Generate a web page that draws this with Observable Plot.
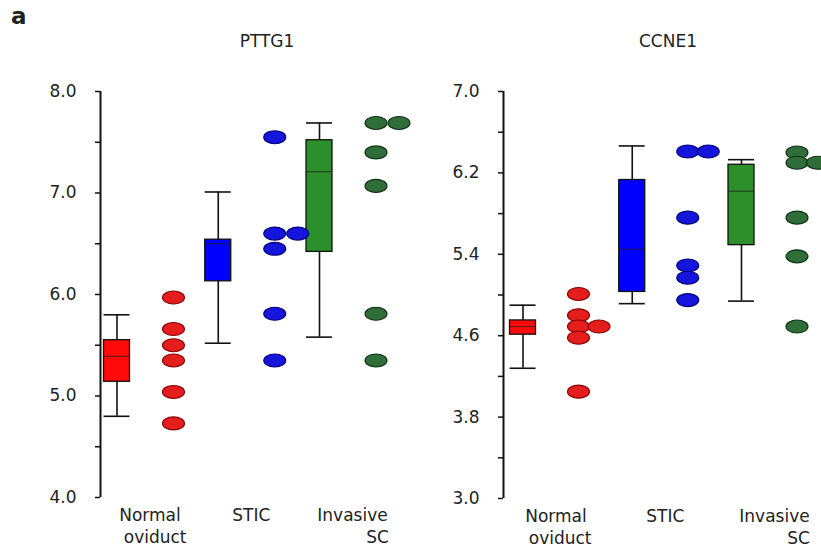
<!DOCTYPE html>
<html>
<head>
<meta charset="utf-8">
<script src="https://cdn.jsdelivr.net/npm/d3@7"></script>
<script src="https://cdn.jsdelivr.net/npm/@observablehq/plot@0.6"></script>
<style>
  html, body { margin: 0; padding: 0; background: #fff; }
  #wrap { position: relative; width: 821px; height: 550px; overflow: hidden; font-family: "DejaVu Sans", sans-serif; color: #222; }
  #wrap svg { position: absolute; top: 0; overflow: visible; background: transparent; }
  .ttl { position: absolute; font-size: 17px; transform: translateX(-50%); white-space: nowrap; }
  .tag { position: absolute; left: 11px; top: 3px; font-size: 23px; font-weight: bold; }
</style>
</head>
<body>
<div id="wrap">
  <div class="tag">a</div>
  <div class="ttl" id="t1" style="left:267px; top:31px;"></div>
  <div class="ttl" id="t2" style="left:668px; top:31px;"></div>
</div>
<script>
// ---------- data ----------
const groupLine1 = ["Normal", "STIC", "Invasive"];
const groupLine2 = ["oviduct", "", "SC"];

// PTTG1 box statistics (per group)
const pttg1Title = "PTTG1";
const pttg1Low    = [4.80, 5.52, 5.58];
const pttg1Q1     = [5.14, 6.13, 6.42];
const pttg1Median = [5.39, 6.50, 7.21];
const pttg1Q3     = [5.55, 6.54, 7.52];
const pttg1High   = [5.80, 7.01, 7.69];
// PTTG1 individual samples
const pttg1Normal   = [5.97, 5.66, 5.50, 5.35, 5.04, 4.73];
const pttg1STIC     = [7.55, 6.60, 6.60, 6.45, 5.81, 5.35];
const pttg1Invasive = [7.69, 7.69, 7.40, 7.07, 5.81, 5.35];
const pttg1Ticks = [4.0, 5.0, 6.0, 7.0, 8.0];

// CCNE1 box statistics (per group)
const ccne1Title = "CCNE1";
const ccne1Low    = [4.28, 4.915, 4.94];
const ccne1Q1     = [4.61, 5.03, 5.49];
const ccne1Median = [4.69, 5.45, 6.02];
const ccne1Q3     = [4.75, 6.13, 6.28];
const ccne1High   = [4.90, 6.465, 6.33];
// CCNE1 individual samples
const ccne1Normal   = [5.01, 4.80, 4.69, 4.69, 4.58, 4.05];
const ccne1STIC     = [6.41, 6.41, 5.76, 5.29, 5.17, 4.95];
const ccne1Invasive = [6.40, 6.30, 6.30, 5.76, 5.38, 4.69];
const ccne1Ticks = [3.0, 3.8, 4.6, 5.4, 6.2, 7.0];

// ---------- styles ----------
const boxFill  = ["#ff0a0a", "#0000ff", "#2b8f2b"];
const dotFill  = ["#e41d1d", "#1515dc", "#2f6e38"];
const dotEdge  = ["#8a0000", "#00007a", "#0f2f12"];
const ink = "#111";

// ellipse symbol (d3-symbol compatible)
const ellipse = {
  draw(ctx) {
    const rx = 11, ry = 6.5, k = 0.5522848, kx = k * rx, ky = k * ry;
    ctx.moveTo(rx, 0);
    ctx.bezierCurveTo(rx, ky, kx, ry, 0, ry);
    ctx.bezierCurveTo(-kx, ry, -rx, ky, -rx, 0);
    ctx.bezierCurveTo(-rx, -ky, -kx, -ry, 0, -ry);
    ctx.bezierCurveTo(kx, -ry, rx, -ky, rx, 0);
    ctx.closePath();
  }
};

function makePanel(cfg) {
  const u = px => px / cfg.spacing;           // px -> x units
  const boxOff = u(cfg.boxStart), half = u(13), dotOff = u(cfg.boxStart + cfg.dotGap), step = u(cfg.dotStep);
  const boxes = groupLine1.map((name, g) => ({
    g, lo: cfg.low[g], q1: cfg.q1[g], med: cfg.med[g], q3: cfg.q3[g], hi: cfg.high[g]
  }));
  const dots = [];
  cfg.samples.forEach((vals, g) => {
    const seen = new Map();
    vals.forEach(v => { const k = seen.get(v) || 0; seen.set(v, k + 1); dots.push({g, v, k}); });
  });
  const labels = groupLine1.map((l1, g) => ({g, l1, l2: groupLine2[g]}));
  const major = cfg.ticks;
  const minor = d3.pairs(major).map(([a, b]) => (a + b) / 2);
  const allTicks = major.concat(minor);
  const yMin = d3.min(major), yMax = d3.max(major);
  const fmt = d3.format(".1f");

  return Plot.plot({
    width: cfg.width, height: 550,
    marginLeft: cfg.marginLeft, marginRight: 0, marginTop: 91, marginBottom: cfg.marginBottom,
    x: {domain: [0, (cfg.width - cfg.marginLeft) / cfg.spacing], axis: null},
    y: {domain: [yMin, yMax], axis: null},
    style: {fontFamily: "DejaVu Sans, sans-serif", fontSize: "17px", color: "#222", background: "transparent", overflow: "visible"},
    marks: [
      Plot.ruleX([0], {y1: yMin, y2: yMax, stroke: ink, strokeWidth: 2}),
      Plot.axisY(allTicks, {
        anchor: "left", tickSize: 5, tickPadding: 19, strokeWidth: 1.5, stroke: ink,
        tickFormat: d => major.includes(d) ? fmt(d) : "", fontSize: 17
      }),
      // whiskers
      Plot.ruleX(boxes, {x: d => d.g + boxOff, y1: "lo", y2: "hi", stroke: ink, strokeWidth: 1.6}),
      Plot.ruleY(boxes, {y: "lo", x1: d => d.g + boxOff - half, x2: d => d.g + boxOff + half, stroke: ink, strokeWidth: 1.6}),
      Plot.ruleY(boxes, {y: "hi", x1: d => d.g + boxOff - half, x2: d => d.g + boxOff + half, stroke: ink, strokeWidth: 1.6}),
      // boxes
      Plot.rect(boxes, {
        x1: d => d.g + boxOff - half, x2: d => d.g + boxOff + half, y1: "q1", y2: "q3",
        fill: d => boxFill[d.g], stroke: ink, strokeWidth: 1.3
      }),
      Plot.ruleY(boxes, {y: "med", x1: d => d.g + boxOff - half, x2: d => d.g + boxOff + half, stroke: "#222", strokeOpacity: 0.7, strokeWidth: 1.2}),
      // samples
      Plot.dot(dots, {
        x: d => d.g + dotOff + d.k * step, y: "v", symbol: ellipse,
        fill: d => dotFill[d.g], stroke: d => dotEdge[d.g], strokeWidth: 1.1
      }),
      // category labels
      Plot.text(labels, {x: d => d.g + boxOff + u(33), y: yMin, text: "l1", lineAnchor: "top", dy: 11, fontSize: 17, fill: "#222"}),
      Plot.text(labels, {x: d => d.g + dotOff + u(13), y: yMin, text: "l2", lineAnchor: "top", dy: 33, textAnchor: "end", fontSize: 17, fill: "#222"})
    ]
  });
}

const left = makePanel({
  width: 410, marginLeft: 100, marginBottom: 53, spacing: 101.25, boxStart: 16.5, dotGap: 56.5, dotStep: 23,
  low: pttg1Low, q1: pttg1Q1, med: pttg1Median, q3: pttg1Q3, high: pttg1High,
  samples: [pttg1Normal, pttg1STIC, pttg1Invasive], ticks: pttg1Ticks
});
const right = makePanel({
  width: 411, marginLeft: 93, marginBottom: 52, spacing: 109.25, boxStart: 19.5, dotGap: 55.5, dotStep: 20.5,
  low: ccne1Low, q1: ccne1Q1, med: ccne1Median, q3: ccne1Q3, high: ccne1High,
  samples: [ccne1Normal, ccne1STIC, ccne1Invasive], ticks: ccne1Ticks
});
left.style.left = "0px";
right.style.left = "410px";
const wrap = document.getElementById("wrap");
wrap.appendChild(left);
wrap.appendChild(right);
document.getElementById("t1").textContent = pttg1Title;
document.getElementById("t2").textContent = ccne1Title;
</script>
</body>
</html>
